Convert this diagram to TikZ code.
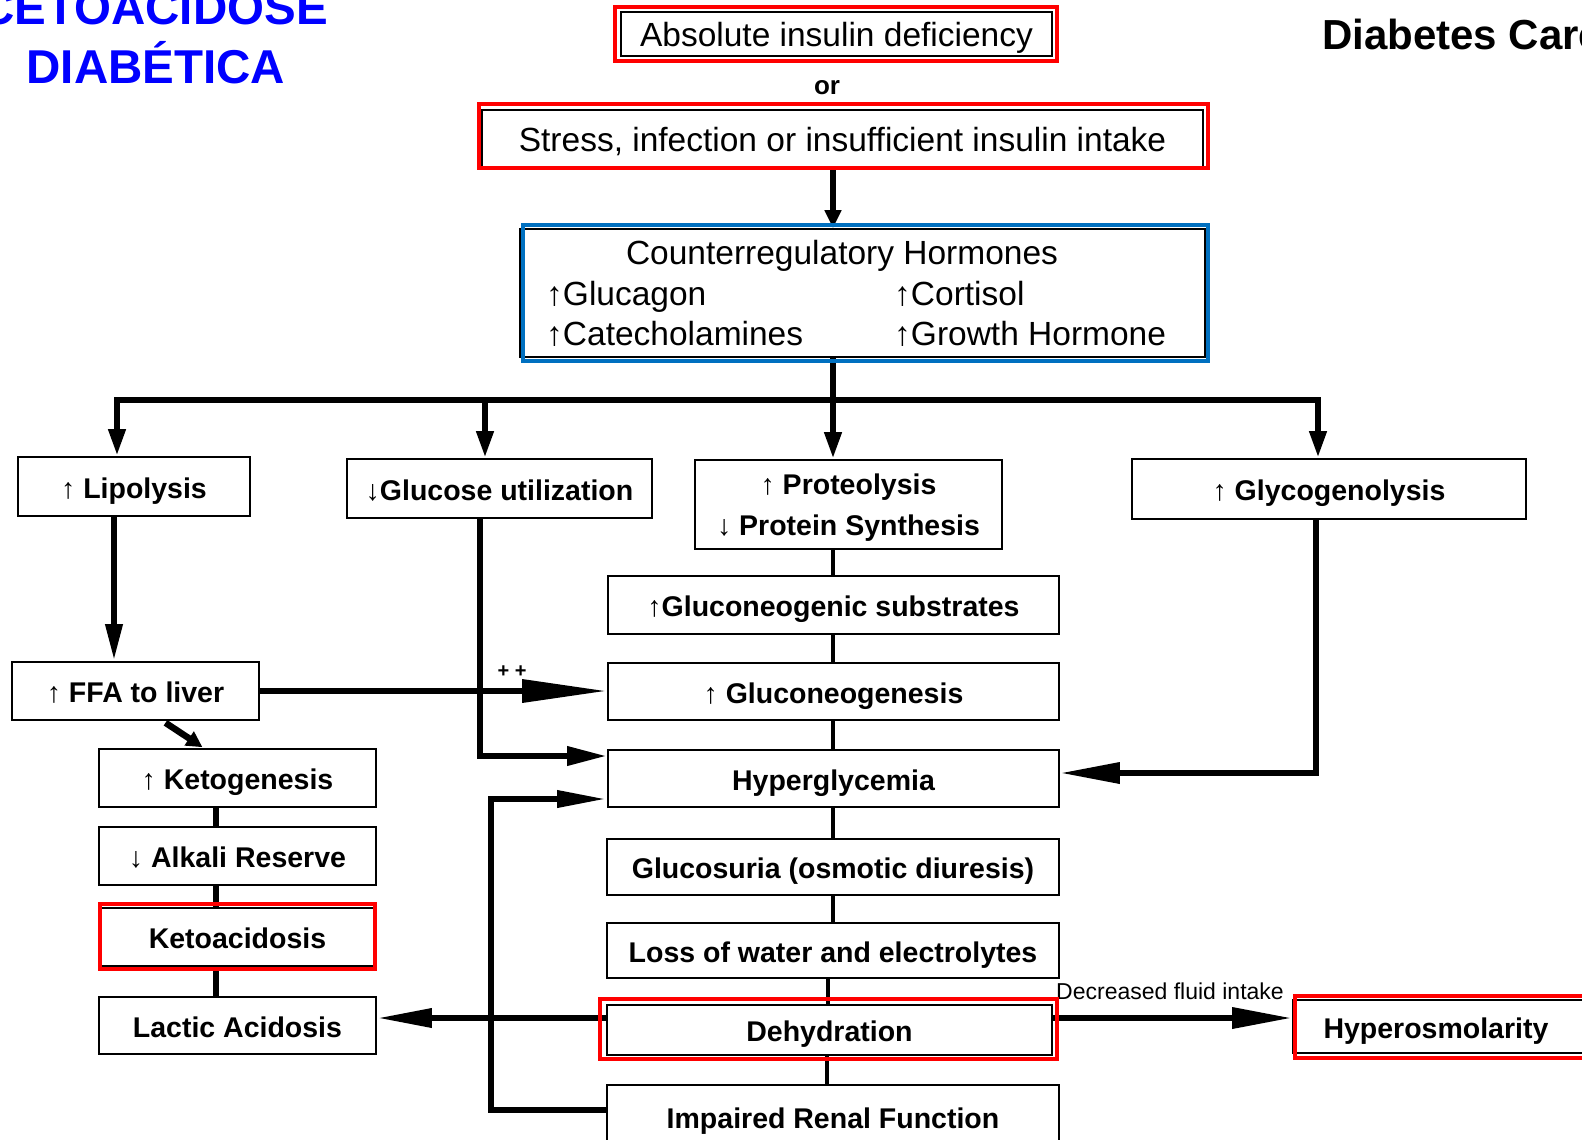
\documentclass[tikz,border=0pt]{standalone}
\usepackage{fontspec}
\setmainfont{Liberation Sans}
\usetikzlibrary{arrows.meta,calc}
\definecolor{myred}{RGB}{255,0,0}
\definecolor{myblue}{RGB}{0,112,192}
\definecolor{titleblue}{RGB}{0,0,255}
\begin{document}
\begin{tikzpicture}[x=1pt,y=-1pt,
  box/.style={draw=black, line width=1.6pt, inner sep=0pt, align=center, text depth=0pt,
    font=\bfseries\fontsize{28.5}{41}\selectfont},
  sbox/.style={box, text height=23pt},
  rbox/.style={box, text height=25pt, font=\fontsize{33.5}{40}\selectfont},
  redframe/.style={draw=myred, line width=4.5pt},
  blueframe/.style={draw=myblue, line width=4.5pt},
  flow/.style={line width=6.5pt},
  link/.style={line width=4.5pt},
  plain/.style={inner sep=0pt, font=\fontsize{33.5}{40}\selectfont},
  titletext/.style={inner sep=0pt, text=titleblue, font=\bfseries\fontsize{47.5}{50}\selectfont},
]
\useasboundingbox (0,0) rectangle (1582,1140);

% titles
\node[titletext, anchor=base] (t1) at (154,25) {CETOACIDOSE};
\node[titletext, anchor=base] (t2) at (156,83) {DIABÉTICA};
\node[inner sep=0pt, anchor=base west, font=\bfseries\fontsize{42}{42}\selectfont] (dc) at (1322,50) {Diabetes Care};

% top boxes
\node[rbox, minimum width=431pt, minimum height=44pt] (abs) at (836.5,34) {Absolute insulin deficiency};
\node[inner sep=0pt, font=\bfseries\fontsize{26}{26}\selectfont] (or) at (827,88) {or};
\node[rbox, minimum width=721pt, minimum height=57pt] (stress) at (842.5,138.5) {Stress, infection or insufficient insulin intake};
\node[box, minimum width=685pt, minimum height=128pt] (counter) at (862.5,293) {};
\node[plain, anchor=base] (ch) at (842,264) {Counterregulatory Hormones};
\node[plain, anchor=base west] (cg) at (546,305) {↑Glucagon};
\node[plain, anchor=base west] (cc) at (894,305) {↑Cortisol};
\node[plain, anchor=base west] (cca) at (546,345) {↑Catecholamines};
\node[plain, anchor=base west] (cgh) at (894,345) {↑Growth Hormone};

% second row
\node[sbox, minimum width=232pt, minimum height=59pt] (lip) at (134,486.5) {↑ Lipolysis};
\node[sbox, minimum width=305pt, minimum height=59pt] (glu) at (499.5,488.5) {↓Glucose utilization};
\node[box, minimum width=307pt, minimum height=89pt] (prot) at (848.5,504.5) {↑ Proteolysis\\↓ Protein Synthesis};
\node[sbox, minimum width=394pt, minimum height=60pt] (glyco) at (1329,489) {↑ Glycogenolysis};

% central column
\node[sbox, minimum width=451pt, minimum height=58pt] (subs) at (833.5,605) {↑Gluconeogenic substrates};
\node[sbox, minimum width=451pt, minimum height=57pt] (gneo) at (833.5,691.5) {↑ Gluconeogenesis};
\node[sbox, minimum width=451pt, minimum height=57pt] (hyper) at (833.5,778.5) {Hyperglycemia};
\node[sbox, minimum width=452pt, minimum height=56pt] (gsur) at (833,867) {Glucosuria (osmotic diuresis)};
\node[sbox, minimum width=452pt, minimum height=55pt] (loss) at (833,950.5) {Loss of water and electrolytes};
\node[sbox, minimum width=445pt, minimum height=50pt] (dehyd) at (829.5,1030) {Dehydration};
\node[sbox, minimum width=452pt, minimum height=64pt] (renal) at (833,1117) {Impaired Renal Function};
\node[sbox, minimum width=297pt, minimum height=53pt, text width=290pt, align=left] (hosm) at (1441.5,1026.5) {\hspace*{27pt}Hyperosmolarity};

% left column
\node[sbox, minimum width=247pt, minimum height=58pt] (ffa) at (135.5,691) {↑ FFA to liver};
\node[sbox, minimum width=277pt, minimum height=58pt] (keto) at (237.5,778) {↑ Ketogenesis};
\node[sbox, minimum width=277pt, minimum height=58pt] (alk) at (237.5,856) {↓ Alkali Reserve};
\node[sbox, minimum width=277pt, minimum height=58pt] (kacid) at (237.5,937) {Ketoacidosis};
\node[sbox, minimum width=277pt, minimum height=57pt] (lac) at (237.5,1025.5) {Lactic Acidosis};

% helper coordinates
\coordinate (xc) at (833,0);
\coordinate (busy) at (0,400);
\coordinate (xlip) at (117,0);
\coordinate (xglu) at (485,0);
\coordinate (xgly) at (1318,0);
\coordinate (xlipd) at (114,0);
\coordinate (xglud) at (480,0);
\coordinate (xglyd) at (1316,0);
\coordinate (xrenal) at (491,0);
\coordinate (xleft) at (216,0);
\coordinate (xd) at (828,0);
\coordinate (xd2) at (827,0);
\coordinate (yh1) at (0,756);
\coordinate (yh2) at (0,799);
\coordinate (yh3) at (0,773);
\coordinate (yr) at (0,1110);
\coordinate (yd) at (0,1018);

% connectors
\draw[flow, -{Triangle[length=18pt,width=16pt]}] (stress.south -| xc) -- (counter.north -| xc);
\draw[flow, -{Triangle[length=27pt,width=16pt]}] (counter.south -| xc) |- (busy -| xlip) -- (lip.north -| xlip);
\draw[flow, -{Triangle[length=27pt,width=16pt]}] (counter.south -| xc) |- (busy -| xgly) -- (glyco.north -| xgly);
\draw[flow, -{Triangle[length=27pt,width=16pt]}] (busy -| xglu) -- (glu.north -| xglu);
\draw[flow, -{Triangle[length=27pt,width=16pt]}] (busy -| xc) -- (prot.north -| xc);

\draw[flow, -{Triangle[length=37pt,width=16pt]}] (lip.south -| xlipd) -- (ffa.north -| xlipd);
\draw[flow, -{Triangle[length=16pt,width=16pt]}] ($(ffa.south)+(30,2)$) -- ($(keto.north)+(-35,-1)$);
\draw[flow, -{Triangle[length=85pt,width=22pt]}] (ffa.east) -- (gneo.west |- ffa.east);
\node[inner sep=0pt, font=\bfseries\fontsize{20}{20}\selectfont] (pp) at (512,672) {+ +};

\draw[flow, -{Triangle[length=40pt,width=18pt]}] (glu.south -| xglud) |- (hyper.west |- yh1);
\draw[flow, -{Triangle[length=50pt,width=16pt]}] (renal.west |- yr) -| (xrenal |- yh2) -- (hyper.west |- yh2);
\draw[flow, -{Triangle[length=60pt,width=20pt]}] (glyco.south -| xglyd) |- (hyper.east |- yh3);

\draw[flow, -{Triangle[length=55pt,width=18pt]}] (dehyd.west |- yd) -- (lac.east |- yd);
\draw[flow, -{Triangle[length=60pt,width=20pt]}] (dehyd.east |- yd) -- (hosm.west |- yd);
\node[inner sep=0pt, font=\fontsize{23}{23}\selectfont] (dfi) at (1170,991) {Decreased fluid intake};

\draw[link] (prot.south -| xc) -- (subs.north -| xc);
\draw[link] (subs.south -| xc) -- (gneo.north -| xc);
\draw[link] (gneo.south -| xc) -- (hyper.north -| xc);
\draw[link] (hyper.south -| xc) -- (gsur.north -| xc);
\draw[link] (gsur.south -| xc) -- (loss.north -| xc);
\draw[link] (loss.south -| xd) -- (dehyd.north -| xd);
\draw[link] (dehyd.south -| xd2) -- (renal.north -| xd2);

\draw[flow] (keto.south -| xleft) -- (alk.north -| xleft);
\draw[flow] (alk.south -| xleft) -- (kacid.north -| xleft);
\draw[flow] (kacid.south -| xleft) -- (lac.north -| xleft);

% coloured frames
\draw[redframe] ($(abs.north west)+(-5,-4)$) rectangle ($(abs.south east)+(4,4)$);
\draw[redframe] ($(stress.north west)+(-2,-5)$) rectangle ($(stress.south east)+(4,0)$);
\draw[blueframe] ($(counter.north west)+(4,-3)$) rectangle ($(counter.south east)+(2,3)$);
\draw[redframe] ($(kacid.north west)+(2,-3)$) rectangle ($(kacid.south east)+(-2,2)$);
\draw[redframe] ($(dehyd.north west)+(-6,-5)$) rectangle ($(dehyd.south east)+(4,3)$);
\draw[redframe] ($(hosm.north west)+(3,-3)$) rectangle ($(hosm.south east)+(2,4)$);
\end{tikzpicture}
\end{document}
